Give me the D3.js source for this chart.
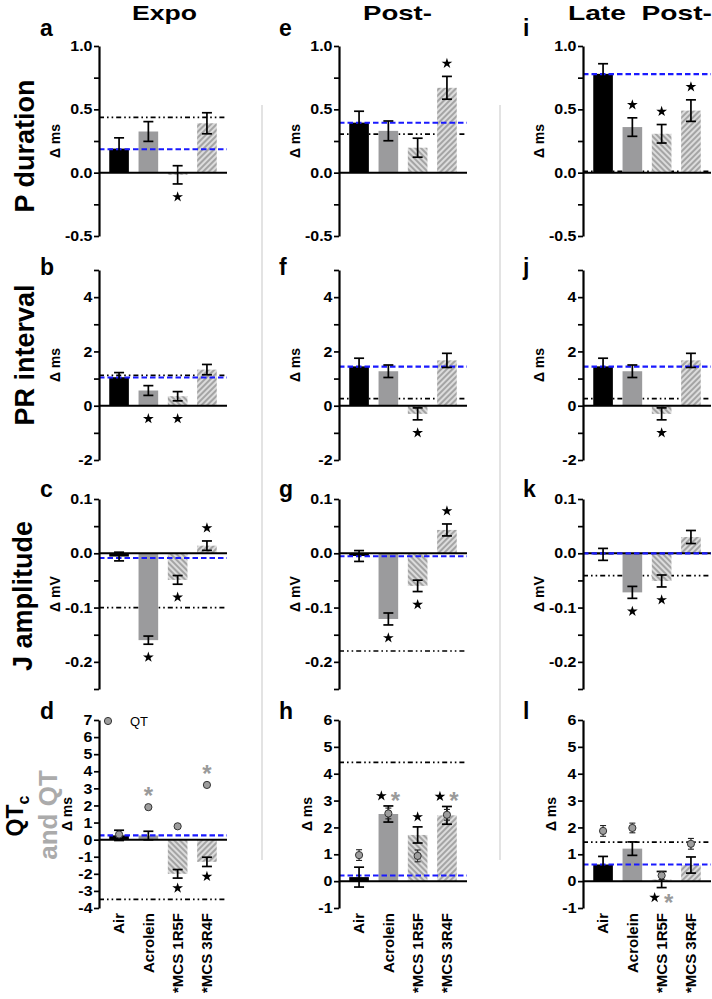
<!DOCTYPE html>
<html><head><meta charset="utf-8">
<script src="https://cdn.jsdelivr.net/npm/d3@7"></script>
<style>
body{margin:0;background:#fff}
text{font-family:"Liberation Sans",Arial,Helvetica,sans-serif}
</style>
</head><body>
<svg id="chart" width="712" height="999"></svg>
<script>
// ---------------- DATA ----------------
const categories = ["Air", "Acrolein", "*MCS 1R5F", "*MCS 3R4F"];
const columnTitles = ["Expo", "Post-", "Late  Post-"];
const rowTitles = ["P duration", "PR interval", "J amplitude"];
const unitLabels = ["\u0394 ms", "\u0394 ms", "\u0394 mV", "\u0394 ms"];
const panelLetters = [["a", "e", "i"], ["b", "f", "j"], ["c", "g", "k"], ["d", "h", "l"]];
const legendLabel = "QT";

// P duration (Δ ms); one array per column: Expo, Post-, Late Post-
const pMean = [[0.19, 0.325, -0.017, 0.39], [0.395, 0.33, 0.197, 0.67], [0.78, 0.36, 0.307, 0.49]];
const pErr  = [[0.085, 0.078, 0.072, 0.083], [0.09, 0.078, 0.075, 0.09], [0.08, 0.073, 0.073, 0.085]];
const pBlue = [0.185, 0.394, 0.778];
const pBlack = [0.437, 0.304, 0.01];
const pStars = [["", "", "b", ""], ["", "", "", "a"], ["", "a", "a", "a"]];

// PR interval (Δ ms)
const prMean = [[1.05, 0.56, 0.35, 1.33], [1.45, 1.27, -0.3, 1.67], [1.45, 1.27, -0.3, 1.67]];
const prErr  = [[0.17, 0.18, 0.17, 0.19], [0.3, 0.23, 0.22, 0.26], [0.3, 0.23, 0.22, 0.26]];
const prBlue = [1.04, 1.44, 1.44];
const prBlack = [1.12, 0.26, 0.26];
const prStars = [["", "b", "b", ""], ["", "", "b", ""], ["", "", "b", ""]];

// J amplitude (Δ mV)
const jMean = [[-0.006, -0.16, -0.049, 0.014], [-0.005, -0.121, -0.06, 0.043], [-0.002, -0.072, -0.051, 0.03]];
const jErr  = [[0.008, 0.0075, 0.008, 0.0087], [0.01, 0.011, 0.0105, 0.011], [0.011, 0.011, 0.011, 0.012]];
const jBlue = [-0.0087, -0.0055, 0.0];
const jBlack = [-0.1, -0.18, -0.041];
const jStars = [["", "b", "b", "a"], ["", "b", "b", "a"], ["", "b", "b", ""]];

// QTc (bars, Δ ms) and QT (grey dots, Δ ms)
const qtcMean = [[0.25, 0.24, -2.0, -1.3], [0.15, 2.5, 1.72, 2.45], [0.62, 1.21, 0.06, 0.6]];
const qtcErr  = [[0.3, 0.25, 0.25, 0.27], [0.37, 0.3, 0.3, 0.33], [0.3, 0.25, 0.3, 0.3]];
const qtcBlue = [0.25, 0.21, 0.62];
const qtcBlack = [-3.5, 4.42, 1.45];
const qtcStars = [["", "", "b", "b"], ["", "a", "a", "a"], ["", "", "b", ""]];
const qtMean = [[0.3, 1.9, 0.78, 3.2], [0.97, 2.52, 0.94, 2.47], [1.87, 1.98, 0.21, 1.39]];
const qtErr  = [[0.1, 0.1, 0.1, 0.1], [0.2, 0.2, 0.22, 0.2], [0.2, 0.18, 0.15, 0.2]];
const qtStars = [["", "a", "", "a"], ["", "a", "", "a"], ["", "", "b", ""]];

// axis ticks
const pTicks = [-0.5, 0, 0.5, 1.0], pMinor = [-0.25, 0.25, 0.75];
const prTicks = [-2, 0, 2, 4], prMinor = [-1, 1, 3, 5];
const jTicks = [-0.2, -0.1, 0, 0.1], jMinor = [-0.25, -0.15, -0.05, 0.05];
const qtTicksExpo = [-4, -3, -2, -1, 0, 1, 2, 3, 4, 5, 6, 7];
const qtTicksPost = [-1, 0, 1, 2, 3, 4, 5, 6];

// ---------------- LAYOUT ----------------
const W = 712, H = 999;
const colX = [99, 339, 583];
const axisLen = 128;
const rowTop = [46, 270, 499, 720];
const rowBot = [236, 460, 689, 908];
const font = '"Liberation Sans",Arial,Helvetica,sans-serif';

const rows = [
  {mean: pMean, err: pErr, blue: pBlue, black: pBlack, stars: pStars,
   domain: () => [-0.5, 1.0], major: () => pTicks, minor: () => pMinor, fmt: d => d.toFixed(1)},
  {mean: prMean, err: prErr, blue: prBlue, black: prBlack, stars: prStars,
   domain: () => [-2, 5], major: () => prTicks, minor: () => prMinor, fmt: d => String(d)},
  {mean: jMean, err: jErr, blue: jBlue, black: jBlack, stars: jStars,
   domain: () => [-0.25, 0.1], major: () => jTicks, minor: () => jMinor, fmt: d => d.toFixed(1)},
  {mean: qtcMean, err: qtcErr, blue: qtcBlue, black: qtcBlack, stars: qtcStars,
   domain: c => c === 0 ? [-4, 7] : [-1, 6], major: c => c === 0 ? qtTicksExpo : qtTicksPost,
   minor: () => [], fmt: d => String(d)}
];

const svg = d3.select("#chart");
svg.append("rect").attr("width", W).attr("height", H).attr("fill", "#fff");
const defs = svg.append("defs");
function hatch(id, angle) {
  const p = defs.append("pattern").attr("id", id).attr("patternUnits", "userSpaceOnUse")
    .attr("width", 4).attr("height", 4).attr("patternTransform", `rotate(${angle})`);
  p.append("rect").attr("width", 4).attr("height", 4).attr("fill", "#dcdcdc");
  p.append("line").attr("x1", 1).attr("x2", 1).attr("y1", 0).attr("y2", 4)
    .attr("stroke", "#a4a4a4").attr("stroke-width", 2);
}
hatch("hatchBack", -45);
hatch("hatchFwd", 45);
const barFill = ["#000000", "#9b9b9d", "url(#hatchBack)", "url(#hatchFwd)"];

// separators
[262, 500].forEach(sx => {
  svg.append("line").attr("x1", sx).attr("x2", sx).attr("y1", 105).attr("y2", 860)
    .attr("stroke", "#dadada").attr("stroke-width", 1.5);
});

// column titles
const titleX = [[132, 65], [363, 69], [568, 144]];
columnTitles.forEach((t, i) => {
  svg.append("text").attr("x", titleX[i][0]).attr("y", 20)
    .attr("textLength", titleX[i][1]).attr("lengthAdjust", "spacingAndGlyphs")
    .style("white-space", "pre").style("font-size", "21px").style("font-weight", "bold")
    .text(t);
});

// row titles
const rowTitleY = [146, 355, 596];
rowTitles.forEach((t, i) => {
  svg.append("text").attr("transform", `translate(${i === 2 ? 32 : 34},${rowTitleY[i]}) rotate(-90)`)
    .attr("text-anchor", "middle").style("font-size", "27px").style("font-weight", "bold").text(t);
});
const qtcTitle = svg.append("text").attr("transform", "translate(23,816) rotate(-90)")
  .attr("text-anchor", "middle").style("font-size", "23px").style("font-weight", "bold");
qtcTitle.append("tspan").text("QT");
qtcTitle.append("tspan").attr("dy", 6).style("font-size", "16px").text("c");
svg.append("text").attr("transform", "translate(57,815) rotate(-90)")
  .attr("text-anchor", "middle").style("font-size", "26px").style("font-weight", "bold")
  .attr("fill", "#ababab").text("and QT");

const letterX = [40, 279, 523];
const letterY = [36, 275, 497, 719];

const starSym = d3.symbol().type(d3.symbolStar).size(36);

rows.forEach((R, r) => {
  for (let c = 0; c < 3; c++) {
    const x0 = colX[c];
    const y = d3.scaleLinear().domain(R.domain(c)).range([rowBot[r], rowTop[r]]);
    const x = d3.scaleBand().domain(categories).range([x0, x0 + axisLen])
      .paddingInner(0.33).paddingOuter(0.35);
    const g = svg.append("g");
    const means = R.mean[c], errs = R.err[c];

    // panel letter
    svg.append("text").attr("x", letterX[c]).attr("y", letterY[r])
      .style("font-size", "23px").style("font-weight", "bold").text(panelLetters[r][c]);

    // black dash-dot reference (behind bars)
    g.append("line").attr("x1", x0).attr("x2", x0 + axisLen)
      .attr("y1", y(R.black[c])).attr("y2", y(R.black[c]))
      .attr("stroke", "#000").attr("stroke-width", 1.7)
      .attr("stroke-dasharray", "5,3,1.6,3,1.6,3");

    // bars
    g.selectAll("rect.bar").data(means).join("rect").attr("class", "bar")
      .attr("x", (d, i) => x(categories[i])).attr("width", x.bandwidth())
      .attr("y", d => Math.min(y(d), y(0))).attr("height", d => Math.abs(y(d) - y(0)))
      .attr("fill", (d, i) => barFill[i]);

    // zero line
    g.append("line").attr("x1", x0).attr("x2", x0 + axisLen).attr("y1", y(0)).attr("y2", y(0))
      .attr("stroke", "#000").attr("stroke-width", 2);

    // blue dashed reference (over bars)
    g.append("line").attr("x1", x0).attr("x2", x0 + axisLen)
      .attr("y1", y(R.blue[c])).attr("y2", y(R.blue[c]))
      .attr("stroke", "#1a1aff").attr("stroke-width", 2.2).attr("stroke-dasharray", "5.5,3");

    // y axis
    const major = R.major(c), minor = R.minor(c);
    const ax = g.append("g").attr("transform", `translate(${x0},0)`)
      .call(d3.axisLeft(y).tickValues(major.concat(minor)).tickSize(5).tickSizeOuter(0)
        .tickFormat(d => major.includes(d) ? R.fmt(d) : ""));
    ax.select(".domain").attr("stroke-width", 2.2);
    ax.selectAll(".tick line").attr("stroke-width", 1.7);
    ax.selectAll(".tick text").attr("x", null).attr("transform", "translate(-6.5,0) scale(1.1,1)")
      .style("font-size", "14.5px").style("font-weight", "bold").style("font-family", font).attr("fill", "#000");

    // unit label
    const off = r === 3 ? 27 : 39;
    svg.append("text").attr("transform", `translate(${x0 - off},${(rowTop[r] + rowBot[r]) / 2}) rotate(-90)`)
      .attr("text-anchor", "middle").style("font-size", "14px").style("font-weight", "bold")
      .text(unitLabels[r]);

    // error bars
    const cx = i => x(categories[i]) + x.bandwidth() / 2;
    const eb = g.selectAll("g.eb").data(means).join("g").attr("class", "eb")
      .attr("stroke", "#000").attr("stroke-width", 1.7);
    eb.append("line").attr("x1", (d, i) => cx(i)).attr("x2", (d, i) => cx(i))
      .attr("y1", (d, i) => y(d - errs[i])).attr("y2", (d, i) => y(d + errs[i]));
    eb.append("line").attr("x1", (d, i) => cx(i) - 5).attr("x2", (d, i) => cx(i) + 5)
      .attr("y1", (d, i) => y(d - errs[i])).attr("y2", (d, i) => y(d - errs[i]));
    eb.append("line").attr("x1", (d, i) => cx(i) - 5).attr("x2", (d, i) => cx(i) + 5)
      .attr("y1", (d, i) => y(d + errs[i])).attr("y2", (d, i) => y(d + errs[i]));

    // QT dots
    const hasQT = r === 3;
    if (hasQT) {
      const qm = qtMean[c], qe = qtErr[c];
      const qg = g.selectAll("g.qt").data(qm).join("g").attr("class", "qt");
      if (c > 0) {
        qg.append("line").attr("x1", (d, i) => cx(i)).attr("x2", (d, i) => cx(i))
          .attr("y1", (d, i) => y(d - qe[i])).attr("y2", (d, i) => y(d + qe[i]))
          .attr("stroke", "#222").attr("stroke-width", 1.1);
        [-1, 1].forEach(s => {
          qg.append("line").attr("x1", (d, i) => cx(i) - 3).attr("x2", (d, i) => cx(i) + 3)
            .attr("y1", (d, i) => y(d + s * qe[i])).attr("y2", (d, i) => y(d + s * qe[i]))
            .attr("stroke", "#222").attr("stroke-width", 1.1);
        });
      }
      qg.append("circle").attr("cx", (d, i) => cx(i)).attr("cy", d => y(d)).attr("r", 3.6)
        .attr("fill", "#9d9d9d").attr("stroke", "#333").attr("stroke-width", 1);
    }

    // stars
    const soff = r === 3 ? 10 : 13;
    means.forEach((m, i) => {
      const bs = R.stars[c][i];
      const gs = hasQT ? qtStars[c][i] : "";
      const qm = hasQT ? qtMean[c][i] : null, qe = hasQT ? qtErr[c][i] : 0;
      const posY = side => {
        if (side === "a") {
          const top = Math.max(m + errs[i], 0, hasQT ? qm + qe : -Infinity);
          return y(top) - soff - (hasQT && qm + qe >= m + errs[i] ? 4 : 0);
        }
        const bot = Math.min(m - errs[i], 0, hasQT ? qm - qe : Infinity);
        return y(bot) + soff;
      };
      const paired = bs && gs && bs === gs;
      if (bs) {
        g.append("path").attr("d", starSym)
          .attr("transform", `translate(${cx(i) + (paired ? -7 : 0)},${posY(bs)})`).attr("fill", "#000");
      }
      if (gs) {
        g.append("text").attr("x", cx(i) + (paired ? 7 : 0)).attr("y", posY(gs) + 13)
          .attr("text-anchor", "middle").style("font-size", "24px").style("font-weight", "bold")
          .attr("fill", "#9a9a9a").text("*");
      }
    });

    // category labels (bottom row)
    if (r === 3) {
      g.selectAll("text.cat").data(categories).join("text").attr("class", "cat")
        .attr("transform", d => `translate(${x(d) + x.bandwidth() / 2},${rowBot[r] + 5}) rotate(-90)`)
        .attr("dy", "0.36em").attr("text-anchor", "end")
        .style("font-size", "15px").style("font-weight", "bold").text(d => d);
    }
  }
});

// QT legend in panel d
svg.append("circle").attr("cx", 108).attr("cy", 721).attr("r", 3.6)
  .attr("fill", "#9d9d9d").attr("stroke", "#333").attr("stroke-width", 1);
svg.append("text").attr("x", 130).attr("y", 726).style("font-size", "13px").text(legendLabel);
</script>
</body></html>
